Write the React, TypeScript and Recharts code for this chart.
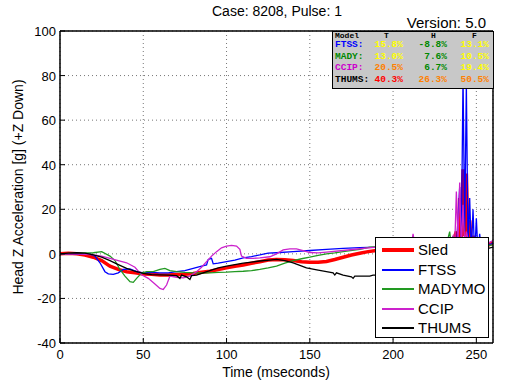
import React from 'react';
import { LineChart, Line, XAxis, YAxis, CartesianGrid } from 'recharts';

// [time ms, accel g]
const sled: number[][] = [
  [0, 0], [5, 0.3], [10, 0], [15, -0.5], [20, -1.5], [25, -3], [30, -5.5], [35, -7], [40, -8],
  [45, -8.5], [50, -9], [55, -9.2], [60, -9.5], [65, -9.5], [70, -9.3], [75, -9.2], [80, -8.8],
  [85, -8.3], [90, -7.8], [95, -7], [100, -6.3], [105, -5.6], [110, -5], [115, -4.2], [120, -3.5],
  [125, -2.8], [130, -2.5], [135, -2.6], [140, -3], [145, -3.5], [150, -3.8], [155, -3.8],
  [160, -3.4], [165, -2.5], [170, -1.5], [175, -0.5], [180, 0.3], [185, 1], [190, 1.5], [200, 2],
  [210, 2.5], [220, 3], [230, 3], [234, 3.5], [236, 5], [238, 10], [239, 3], [240, 25], [241, 6],
  [242, 38], [243, 8], [244, 36], [245, 4], [246, 15], [247, 3], [248, 8], [250, 2], [252, 4],
  [255, 3], [260, 5],
];

const ftss: number[][] = [
  [0, 0], [10, 0], [18, 0], [21, -1], [24, -4], [27, -8], [29, -9], [32, -9.2], [35, -8.5],
  [38, -7], [42, -6.8], [46, -8], [50, -8.5], [55, -8.3], [60, -8.5], [65, -8.5], [70, -8],
  [75, -7.5], [80, -6.5], [85, -5.5], [88, -5], [89, -2.5], [91, -2], [92, -4.5], [95, -4.2],
  [100, -3.5], [105, -2.8], [110, -1.8], [115, -1.2], [120, -0.5], [125, 0.3], [130, 0.5],
  [140, 1], [150, 1.5], [160, 2], [170, 2.5], [180, 2.8], [190, 3], [200, 3.5], [210, 4],
  [220, 4], [230, 4], [234, 3], [236, 6], [238, 2], [240, 30], [241, 5], [242, 80], [243, 10],
  [244, 76], [245, 3], [246, 25], [247, 0], [248, 20], [249, -1], [250, 16], [251, 0], [252, 9],
  [253, 1], [255, 6], [258, 4], [260, 5],
];

const madymo: number[][] = [
  [0, 0], [10, 0.3], [20, 0.5], [25, 1], [30, -1], [33, -3], [36, -7], [39, -10], [42, -12.5],
  [44, -12.8], [46, -11], [49, -8.6], [52, -8], [56, -8], [60, -7], [63, -6.5], [66, -7.5],
  [70, -8], [75, -8.3], [80, -8.5], [85, -8.6], [90, -8.5], [95, -8.3], [100, -8.2], [105, -8],
  [110, -7.8], [115, -7.5], [120, -7], [125, -6.3], [130, -5.5], [135, -4.2], [140, -3],
  [145, -2.2], [150, -1.5], [155, -0.7], [160, 0], [165, 0.4], [170, 1], [180, 2], [186, 3],
  [195, 3.5], [205, 3.5], [215, 3], [225, 3], [230, 3], [232, 4], [234, 10], [235, 3], [236, 8],
  [237, 2], [238, 5], [240, 2], [250, 3], [260, 4],
];

const ccip: number[][] = [
  [0, 0], [10, 0], [20, -0.5], [25, -1], [30, -2], [35, -3], [40, -4], [45, -6], [49, -9.4],
  [53, -11], [57, -13.5], [60, -15.5], [62, -16], [64, -14], [66, -10], [70, -10.5], [74, -10.8],
  [78, -10], [82, -8], [85, -6], [88, -3.5], [91, -1], [94, 1], [97, 2.7], [100, 3.5], [103, 3.8],
  [106, 3.5], [108, 2], [109, -1], [112, -2], [116, -2], [120, -1.8], [126, -1.3], [130, 0],
  [134, 1.8], [138, 2.2], [142, 2.2], [146, 1.5], [150, 0.6], [155, 0.4], [160, 0.8], [170, 1.5],
  [180, 2.3], [190, 3], [200, 3.5], [210, 4], [211, 4], [212, 9], [213, 4], [220, 4.5],
  [228, 5], [232, 6], [234, 4], [236, 8], [237, 3], [238, 28], [239, 5], [240, 32], [241, 3],
  [242, 22], [243, 4], [244, 10], [246, 3], [250, 3], [255, 4], [260, 6],
];

const thums: number[][] = [
  [0, 0], [5, 0.3], [10, 0.5], [15, 0.3], [20, -0.5], [25, -1.5], [30, -3], [35, -4.8], [40, -6.5],
  [45, -7.8], [50, -8.8], [55, -9.3], [60, -9.4], [65, -9.5], [70, -9.8], [72, -11], [73, -9.5],
  [76, -10.3], [78, -11.5], [79, -9.8], [82, -9.5], [86, -8.5], [90, -7.5], [95, -6.3],
  [100, -5.5], [105, -4.8], [110, -4.2], [115, -3.7], [120, -3.2], [126, -2.8], [130, -2.5],
  [135, -3], [140, -4], [148, -6.3], [155, -7.3], [160, -8], [164, -8.5], [165, -9.5],
  [166, -8.5], [170, -9.5], [175, -10.3], [176, -11], [177, -10], [180, -10], [186, -10],
  [188, -9.5], [195, -9.5], [205, -9.5], [215, -9], [225, -8], [235, -5], [240, -2], [245, 0],
  [260, 3],
];

const xTicks = [0, 50, 100, 150, 200, 250];
const yTicks = [-40, -20, 0, 20, 40, 60, 80, 100];

const series = [
  { name: 'Sled', data: sled, color: '#ff0000', width: 3.5 },
  { name: 'FTSS', data: ftss, color: '#0000ff', width: 1.3 },
  { name: 'MADYMO', data: madymo, color: '#229922', width: 1.3 },
  { name: 'CCIP', data: ccip, color: '#cc22cc', width: 1.3 },
  { name: 'THUMS', data: thums, color: '#000000', width: 1.3 },
];

// rating table: model label, label colour, then [value, colour] for T, H, F
const tableHead = ['Model', 'T', 'H', 'F'];
const tableRows = [
  { label: 'FTSS:', color: '#0000ff', cells: [['15.8%', '#ffff00'], ['-8.8%', '#008800'], ['13.1%', '#ffff00']] },
  { label: 'MADY:', color: '#008800', cells: [['13.0%', '#ffff00'], ['7.6%', '#008800'], ['10.5%', '#ffff00']] },
  { label: 'CCIP:', color: '#cc00cc', cells: [['20.5%', '#ff8000'], ['6.7%', '#008800'], ['19.4%', '#ffff00']] },
  { label: 'THUMS:', color: '#000000', cells: [['40.3%', '#ff0000'], ['26.3%', '#ff8000'], ['50.5%', '#ff8000']] },
];

const font = '"Liberation Sans", Arial, Helvetica, sans-serif';
const mono = '"Liberation Mono", "Courier New", monospace';

const W = 507;
const H = 384;
const LEFT = 60;
const RIGHT = 14;
const TOP = 31;
const BOTTOM = 41;

const toPts = (d: number[][]) => d.map(([t, v]) => ({ t, v }));

const LeftTick = (props: any) => {
  const { x, y, payload } = props;
  return (
    <g>
      <line x1={x} x2={x + 5} y1={y} y2={y} stroke="#000" />
      <text x={x - 4} y={y} dy={5} textAnchor="end" fontSize={13} fontFamily={font} fill="#000">
        {payload.value}
      </text>
    </g>
  );
};

const BottomTick = (props: any) => {
  const { x, y, payload } = props;
  return (
    <g>
      <line x1={x} x2={x} y1={y} y2={y - 5} stroke="#000" />
      <text x={x} y={y + 16} textAnchor="middle" fontSize={13} fontFamily={font} fill="#000">
        {payload.value}
      </text>
    </g>
  );
};

const RightTick = (props: any) => {
  const { x, y } = props;
  return <line x1={x} x2={x - 5} y1={y} y2={y} stroke="#000" />;
};

const TopTick = (props: any) => {
  const { x, y } = props;
  return <line x1={x} x2={x} y1={y} y2={y + 5} stroke="#000" />;
};

export default function App() {
  return (
    <div style={{ position: 'absolute', left: 0, top: 0, width: W, height: H, background: '#fff', fontFamily: font }}>
      <LineChart width={W} height={H} margin={{ top: 0, right: 0, bottom: 0, left: 0 }}>
        <CartesianGrid stroke="#777" strokeDasharray="1 3" />
        <XAxis
          dataKey="t"
          type="number"
          domain={[0, 260]}
          ticks={xTicks}
          height={BOTTOM}
          tickSize={0}
          tickMargin={0}
          tickLine={false}
          tick={<BottomTick />}
          axisLine={{ stroke: '#000', strokeWidth: 1.5 }}
          allowDataOverflow
        />
        <XAxis
          xAxisId="top"
          orientation="top"
          dataKey="t"
          type="number"
          domain={[0, 260]}
          ticks={xTicks}
          height={TOP}
          tickSize={0}
          tickMargin={0}
          tickLine={false}
          tick={<TopTick />}
          axisLine={{ stroke: '#000', strokeWidth: 1.5 }}
        />
        <YAxis
          type="number"
          domain={[-40, 100]}
          ticks={yTicks}
          width={LEFT}
          tickSize={0}
          tickMargin={0}
          tickLine={false}
          tick={<LeftTick />}
          axisLine={{ stroke: '#000', strokeWidth: 1.5 }}
          allowDataOverflow
        />
        <YAxis
          yAxisId="right"
          orientation="right"
          type="number"
          domain={[-40, 100]}
          ticks={yTicks}
          width={RIGHT}
          tickSize={0}
          tickMargin={0}
          tickLine={false}
          tick={<RightTick />}
          axisLine={{ stroke: '#000', strokeWidth: 1.5 }}
        />
        {series.map((s) => (
          <Line
            key={s.name}
            data={toPts(s.data)}
            dataKey="v"
            type="linear"
            stroke={s.color}
            strokeWidth={s.width}
            dot={false}
            isAnimationActive={false}
          />
        ))}
      </LineChart>

      {/* title and version */}
      <div style={{ position: 'absolute', left: 0, width: 554, top: 3, textAlign: 'center', fontSize: 14 }}>
        Case: 8208, Pulse: 1
      </div>
      <div style={{ position: 'absolute', right: 21, top: 16, fontSize: 15, lineHeight: '14px' }}>Version: 5.0</div>

      {/* axis labels */}
      <div style={{ position: 'absolute', left: 0, width: 552, top: 364, textAlign: 'center', fontSize: 14 }}>
        Time (mseconds)
      </div>
      <div
        style={{
          position: 'absolute',
          left: 18,
          top: 187,
          fontSize: 14,
          whiteSpace: 'nowrap',
          transform: 'translate(-50%, -50%) rotate(-90deg)',
        }}
      >
        Head Z Acceleration [g] (+Z Down)
      </div>

      {/* rating table */}
      <div
        style={{
          position: 'absolute',
          left: 332,
          top: 31,
          width: 160,
          height: 56,
          background: '#c8c8c8',
          border: '1px solid #000',
          fontFamily: mono,
          fontWeight: 'bold',
          fontSize: 9.5,
          overflow: 'hidden',
        }}
      >
        {tableHead.map((h, k) => (
          <div
            key={h}
            style={{ position: 'absolute', top: 0, left: [2, 51, 98, 139][k], fontSize: 8, lineHeight: '8px', color: '#000' }}
          >
            {h}
          </div>
        ))}
        {tableRows.map((r, i) => (
          <React.Fragment key={r.label}>
            <div style={{ position: 'absolute', top: 7 + i * 11.7, left: 2, color: r.color }}>{r.label}</div>
            {r.cells.map(([v, c], j) => (
              <div
                key={j}
                style={{ position: 'absolute', top: 7 + i * 11.7, right: [90, 46, 4][j], color: c, textAlign: 'right' }}
              >
                {v}
              </div>
            ))}
          </React.Fragment>
        ))}
      </div>

      {/* legend */}
      <div
        style={{
          position: 'absolute',
          left: 375,
          top: 237,
          width: 112,
          height: 99,
          background: '#fff',
          border: '1px solid #000',
        }}
      >
        {series.map((s, i) => (
          <div
            key={s.name}
            style={{ position: 'absolute', left: 6, top: 3 + i * 19.5, height: 18, display: 'flex', alignItems: 'center' }}
          >
            <div style={{ width: 32, height: s.width > 2 ? 4 : 2, background: s.color }} />
            <span style={{ marginLeft: 4, fontSize: 15, lineHeight: '18px' }}>{s.name}</span>
          </div>
        ))}
      </div>
    </div>
  );
}
